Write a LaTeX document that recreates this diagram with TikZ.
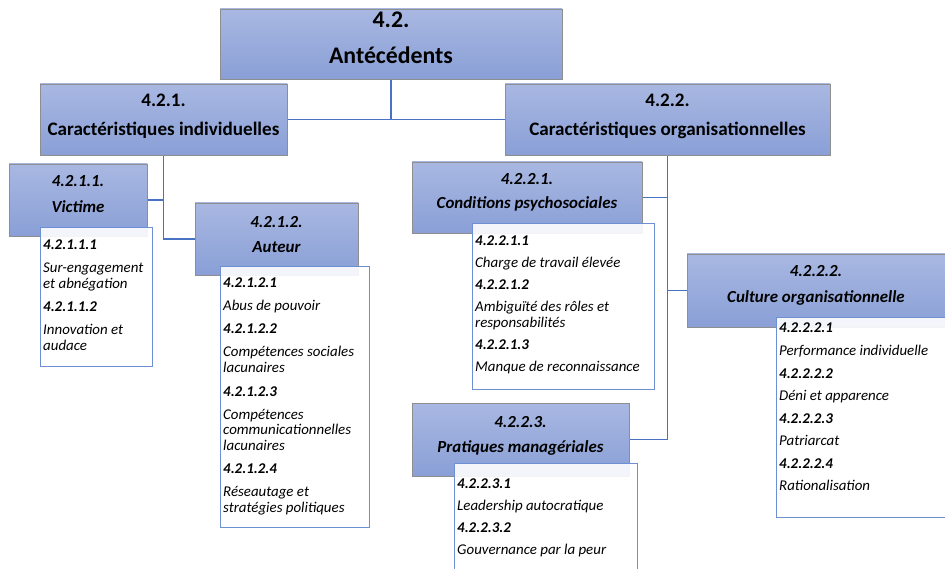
\documentclass[tikz,border=0pt]{standalone}
\usepackage{fontspec}
\setmainfont{Carlito}
\usetikzlibrary{shadings}
\definecolor{hdrtop}{HTML}{A9B8E2}
\definecolor{hdrbot}{HTML}{899FD6}
\definecolor{hdrline}{HTML}{8E8E8E}
\definecolor{conn}{HTML}{4A72C2}
\definecolor{lstline}{HTML}{6F8FD3}
\newcommand\fA{\fontsize{23.8}{28}\selectfont\bfseries}
\newcommand\fB{\fontsize{19.1}{22}\selectfont\bfseries}
\newcommand\fC{\fontsize{16.9}{19}\selectfont\bfseries\itshape}
\newcommand\fL{\fontsize{14.9}{16}\selectfont\itshape}
\newcommand\lst[2]{\parbox[t]{#1}{\raggedright\fL #2}}
\tikzset{
  hdr/.style={draw=hdrline, line width=0.8pt, top color=hdrtop, bottom color=hdrbot, inner sep=0pt, rectangle},
  lstbox/.style={draw=lstline, line width=1.1pt, fill=white, fill opacity=0.9, inner sep=0pt, rectangle},
  conline/.style={draw=conn, line width=1.3pt},
  lbl/.style={anchor=base, inner sep=0pt},
  lsttext/.style={anchor=base west, inner sep=0pt, align=left}
}
\begin{document}
\begin{tikzpicture}[x=1pt,y=-1pt]
\useasboundingbox (0,0) rectangle (945,569);
\clip (0,0) rectangle (945,569);
% header boxes
\node[hdr, minimum width=342pt, minimum height=70pt] (top) at (391,44) {};
\node[hdr, minimum width=247pt, minimum height=71pt] (c1) at (163.5,119.5) {};
\node[hdr, minimum width=325pt, minimum height=71pt] (c2) at (667.5,119.5) {};
\node[hdr, minimum width=138pt, minimum height=72pt] (vic) at (78,200) {};
\node[hdr, minimum width=163pt, minimum height=72pt] (aut) at (276.5,239) {};
\node[hdr, minimum width=230pt, minimum height=71pt] (cond) at (527,197.5) {};
\node[hdr, minimum width=260pt, minimum height=73pt] (cul) at (817,290.5) {};
\node[hdr, minimum width=217pt, minimum height=73pt] (prat) at (520.5,439.5) {};
% connectors
\draw[conline] (top.south) -- (top.south |- c1.east);
\draw[conline] (c1.east) -- (c2.west);
\draw[conline] (c1.south) |- (aut.west);
\draw[conline] (vic.east) -- (vic.east -| c1.south);
\draw[conline] (c2.south) |- (prat.east);
\draw[conline] (cond.east) -- (cond.east -| c2.south);
\draw[conline] (cul.west) -- (cul.west -| c2.south);
% redraw headers over connectors
\node[hdr, minimum width=342pt, minimum height=70pt] at (top) {};
\node[hdr, minimum width=247pt, minimum height=71pt] at (c1) {};
\node[hdr, minimum width=325pt, minimum height=71pt] at (c2) {};
\node[hdr, minimum width=138pt, minimum height=72pt] at (vic) {};
\node[hdr, minimum width=163pt, minimum height=72pt] at (aut) {};
\node[hdr, minimum width=230pt, minimum height=71pt] at (cond) {};
\node[hdr, minimum width=260pt, minimum height=73pt] at (cul) {};
\node[hdr, minimum width=217pt, minimum height=73pt] at (prat) {};
% header labels
\node[lbl] (topa) at (391,28) {\fA 4.2.};
\node[lbl] (topb) at (391,64) {\fA Antécédents};
\node[lbl] (c1a) at (163.5,107) {\fB 4.2.1.};
\node[lbl] (c1b) at (163.5,136) {\fB Caractéristiques individuelles};
\node[lbl] (c2a) at (667.5,107) {\fB 4.2.2.};
\node[lbl] (c2b) at (667.5,136) {\fB Caractéristiques organisationnelles};
\node[lbl] (vica) at (78,187) {\fC 4.2.1.1.};
\node[lbl] (vicb) at (78,213) {\fC Victime};
\node[lbl] (auta) at (276.5,228) {\fC 4.2.1.2.};
\node[lbl] (autb) at (276.5,253) {\fC Auteur};
\node[lbl] (conda) at (527,185) {\fC 4.2.2.1.};
\node[lbl] (condb) at (527,209) {\fC Conditions psychosociales};
\node[lbl] (cula) at (816,277) {\fC 4.2.2.2.};
\node[lbl] (culb) at (816,303) {\fC Culture organisationnelle};
\node[lbl] (prata) at (520.5,427) {\fC 4.2.2.3.};
\node[lbl] (pratb) at (520.5,452) {\fC Pratiques managériales};
% list boxes
\node[lstbox, minimum width=112pt, minimum height=139pt, anchor=north west] (l11) at (40,227) {};
\node[lstbox, minimum width=149pt, minimum height=261pt, anchor=north west] (l12) at (220,266) {};
\node[lstbox, minimum width=182pt, minimum height=166pt, anchor=north west] (l21) at (472,223) {};
\node[lstbox, minimum width=180pt, minimum height=200pt, anchor=north west] (l22) at (776,317) {};
\node[lstbox, minimum width=183pt, minimum height=120pt, anchor=north west] (l23) at (454,463) {};
% list texts
\node[lsttext] (l11t) at (43,250) {\lst{108pt}{\textbf{4.2.1.1.1}\\[7pt]Sur-engagement\\et abnégation\\[7pt]\textbf{4.2.1.1.2}\\[7pt]Innovation et\\audace}};
\node[lsttext] (l12t) at (223,288) {\lst{145pt}{\textbf{4.2.1.2.1}\\[7pt]Abus de pouvoir\\[7pt]\textbf{4.2.1.2.2}\\[7pt]Compétences sociales\\lacunaires\\[7pt]\textbf{4.2.1.2.3}\\[7pt]Compétences\\communicationnelles\\lacunaires\\[7pt]\textbf{4.2.1.2.4}\\[7pt]Réseautage et\\stratégies politiques}};
\node[lsttext] (l21t) at (475,246) {\lst{178pt}{\textbf{4.2.2.1.1}\\[6pt]Charge de travail élevée\\[6pt]\textbf{4.2.2.1.2}\\[6pt]Ambiguïté des rôles et\\responsabilités\\[6pt]\textbf{4.2.2.1.3}\\[6pt]Manque de reconnaissance}};
\node[lsttext] (l22t) at (779,333) {\lst{165pt}{\textbf{4.2.2.2.1}\\[6.5pt]Performance individuelle\\[6.5pt]\textbf{4.2.2.2.2}\\[6.5pt]Déni et apparence\\[6.5pt]\textbf{4.2.2.2.3}\\[6.5pt]Patriarcat\\[6.5pt]\textbf{4.2.2.2.4}\\[6.5pt]Rationalisation}};
\node[lsttext] (l23t) at (457,488) {\lst{178pt}{\textbf{4.2.2.3.1}\\[6pt]Leadership autocratique\\[6pt]\textbf{4.2.2.3.2}\\[6pt]Gouvernance par la peur}};
\end{tikzpicture}
\end{document}
